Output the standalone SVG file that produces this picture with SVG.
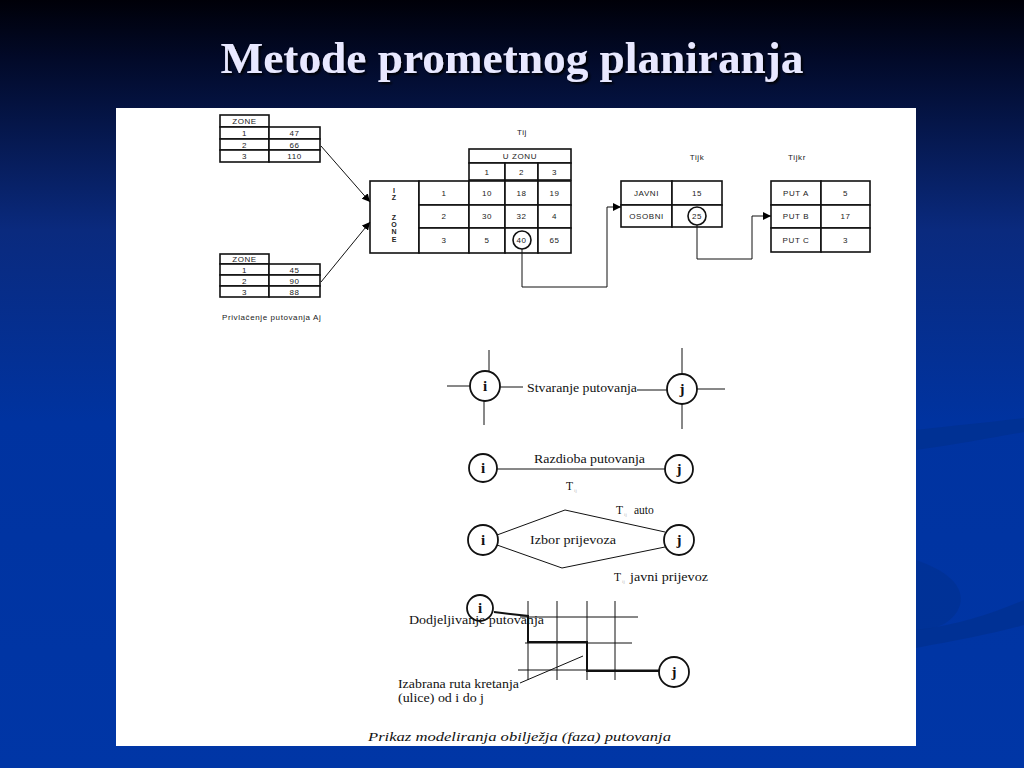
<svg xmlns="http://www.w3.org/2000/svg" width="1024" height="768" viewBox="0 0 1024 768">
<defs>
<linearGradient id="bg" x1="0" y1="0" x2="0" y2="1">
<stop offset="0" stop-color="#000008"/>
<stop offset="0.08" stop-color="#020a2a"/>
<stop offset="0.3" stop-color="#0a2a7e"/>
<stop offset="0.55" stop-color="#0033a0"/>
<stop offset="1" stop-color="#0036a6"/>
</linearGradient>
<marker id="ah" viewBox="0 0 10 10" refX="10" refY="5" markerWidth="8" markerHeight="8" markerUnits="userSpaceOnUse" orient="auto">
<path d="M0,0 L10,5 L0,10 z" fill="#000"/>
</marker>
<filter id="sh" x="-5%" y="-20%" width="110%" height="140%">
<feDropShadow dx="2" dy="2" stdDeviation="1" flood-color="#000" flood-opacity="0.9"/>
</filter>
</defs>
<style>
.cell{fill:#fff;stroke:#111;stroke-width:1.6}
.t{font-family:"Liberation Sans",Arial,sans-serif;font-size:8px;text-anchor:middle;fill:#222;letter-spacing:0.6px}
.tl{font-family:"Liberation Sans",Arial,sans-serif;font-size:8px;fill:#222;letter-spacing:0.6px}
.s{font-family:"Liberation Serif","Times New Roman",serif;font-size:11.5px;fill:#111}
.node{fill:#fff;stroke:#111;stroke-width:1.8}
.nl{font-family:"Liberation Serif","Times New Roman",serif;font-size:15px;font-weight:bold;fill:#111;text-anchor:middle}
.ln{stroke:#111;stroke-width:1;fill:none}
.sub{font-family:"Liberation Serif",serif;font-size:5px;fill:#bbb}
</style>
<rect width="1024" height="768" fill="url(#bg)"/>
<path d="M916,430 C960,425 990,422 1024,418 L1024,432 C990,438 960,444 916,450 Z" fill="#00308f" opacity="0.7"/>
<path d="M916,560 C945,570 965,585 960,605 C955,620 940,630 916,630 Z" fill="#00308f" opacity="0.6"/>
<path d="M916,630 C960,625 995,612 1024,600 L1024,625 C995,633 960,640 916,648 Z" fill="#00308f" opacity="0.7"/>
<text x="512" y="73" text-anchor="middle" font-family="Liberation Serif,'Times New Roman',serif" font-weight="bold" font-size="44" fill="#e8e8ff" filter="url(#sh)" textLength="583" lengthAdjust="spacingAndGlyphs">Metode prometnog planiranja</text>
<rect x="116" y="108" width="800" height="638" fill="#fff"/>

<g id="zone-table-1">
<rect class="cell" x="220" y="115" width="49" height="12"/>
<rect class="cell" x="220" y="127" width="49" height="12"/><rect class="cell" x="269" y="127" width="51" height="12"/>
<rect class="cell" x="220" y="139" width="49" height="11"/><rect class="cell" x="269" y="139" width="51" height="11"/>
<rect class="cell" x="220" y="150" width="49" height="12"/><rect class="cell" x="269" y="150" width="51" height="12"/>
<text class="t" x="244.5" y="124">ZONE</text>
<text class="t" x="244.5" y="136">1</text><text class="t" x="294.5" y="136">47</text>
<text class="t" x="244.5" y="147.5">2</text><text class="t" x="294.5" y="147.5">66</text>
<text class="t" x="244.5" y="159">3</text><text class="t" x="294.5" y="159">110</text>
</g>

<g id="zone-table-2">
<rect class="cell" x="220" y="254" width="49" height="10"/>
<rect class="cell" x="220" y="264" width="49" height="11"/><rect class="cell" x="269" y="264" width="51" height="11"/>
<rect class="cell" x="220" y="275" width="49" height="11"/><rect class="cell" x="269" y="275" width="51" height="11"/>
<rect class="cell" x="220" y="286" width="49" height="11"/><rect class="cell" x="269" y="286" width="51" height="11"/>
<text class="t" x="244.5" y="262">ZONE</text>
<text class="t" x="244.5" y="272.5">1</text><text class="t" x="294.5" y="272.5">45</text>
<text class="t" x="244.5" y="283.5">2</text><text class="t" x="294.5" y="283.5">90</text>
<text class="t" x="244.5" y="294.5">3</text><text class="t" x="294.5" y="294.5">88</text>
<text class="tl" x="222" y="320">Privlačenje putovanja Aj</text>
</g>

<g id="matrix-tij">
<text class="t" x="522" y="135">Tij</text>
<rect class="cell" x="469" y="149" width="102" height="14"/>
<rect class="cell" x="469" y="163" width="36" height="17"/><rect class="cell" x="505" y="163" width="33" height="17"/><rect class="cell" x="538" y="163" width="33" height="17"/>
<rect class="cell" x="370" y="181" width="49" height="72"/>
<rect class="cell" x="419" y="181" width="50" height="24"/><rect class="cell" x="469" y="181" width="36" height="24"/><rect class="cell" x="505" y="181" width="33" height="24"/><rect class="cell" x="538" y="181" width="33" height="24"/>
<rect class="cell" x="419" y="205" width="50" height="23"/><rect class="cell" x="469" y="205" width="36" height="23"/><rect class="cell" x="505" y="205" width="33" height="23"/><rect class="cell" x="538" y="205" width="33" height="23"/>
<rect class="cell" x="419" y="228" width="50" height="25"/><rect class="cell" x="469" y="228" width="36" height="25"/><rect class="cell" x="505" y="228" width="33" height="25"/><rect class="cell" x="538" y="228" width="33" height="25"/>
<text class="t" x="520" y="159">U ZONU</text>
<text class="t" x="487" y="175">1</text><text class="t" x="521.5" y="175">2</text><text class="t" x="554.5" y="175">3</text>
<g style="font-family:'Liberation Sans',sans-serif;font-size:7px;font-weight:bold;text-anchor:middle;fill:#222">
<text x="394" y="193">I</text><text x="394" y="200">Z</text>
<text x="394" y="220">Z</text><text x="394" y="227">O</text><text x="394" y="234">N</text><text x="394" y="242">E</text>
</g>
<text class="t" x="444" y="196">1</text><text class="t" x="487" y="196">10</text><text class="t" x="521.5" y="196">18</text><text class="t" x="554.5" y="196">19</text>
<text class="t" x="444" y="219">2</text><text class="t" x="487" y="219">30</text><text class="t" x="521.5" y="219">32</text><text class="t" x="554.5" y="219">4</text>
<text class="t" x="444" y="243">3</text><text class="t" x="487" y="243">5</text><text class="t" x="521.5" y="243">40</text><text class="t" x="554.5" y="243">65</text>
<circle cx="522" cy="240" r="9" fill="none" stroke="#111" stroke-width="1.6"/>
</g>

<g id="table-tijk">
<text class="t" x="697" y="160">Tijk</text>
<rect class="cell" x="621" y="181" width="51" height="24"/><rect class="cell" x="672" y="181" width="50" height="24"/>
<rect class="cell" x="621" y="205" width="51" height="22"/><rect class="cell" x="672" y="205" width="50" height="22"/>
<text class="t" x="646.5" y="196">JAVNI</text><text class="t" x="697" y="196">15</text>
<text class="t" x="646.5" y="219">OSOBNI</text><text class="t" x="697" y="219">25</text>
<circle cx="697" cy="216" r="9" fill="none" stroke="#111" stroke-width="1.6"/>
</g>

<g id="table-tijkr">
<text class="t" x="797" y="160">Tijkr</text>
<rect class="cell" x="771" y="181" width="50" height="24"/><rect class="cell" x="821" y="181" width="49" height="24"/>
<rect class="cell" x="771" y="205" width="50" height="23"/><rect class="cell" x="821" y="205" width="49" height="23"/>
<rect class="cell" x="771" y="228" width="50" height="24"/><rect class="cell" x="821" y="228" width="49" height="24"/>
<text class="t" x="796" y="196">PUT A</text><text class="t" x="845.5" y="196">5</text>
<text class="t" x="796" y="219">PUT B</text><text class="t" x="845.5" y="219">17</text>
<text class="t" x="796" y="243">PUT C</text><text class="t" x="845.5" y="243">3</text>
</g>

<g id="connectors">
<line class="ln" x1="321" y1="146" x2="370" y2="202" marker-end="url(#ah)"/>
<line class="ln" x1="321" y1="282" x2="370" y2="222" marker-end="url(#ah)"/>
<path class="ln" d="M522,249 V287 H607 V207 H621" marker-end="url(#ah)"/>
<path class="ln" d="M697,225 V259 H752 V216 H771" marker-end="url(#ah)"/>
</g>

<g id="stage-generation">
<line class="ln" x1="489" y1="350" x2="489" y2="372"/>
<line class="ln" x1="484" y1="400" x2="484" y2="425"/>
<line class="ln" x1="447" y1="386" x2="470" y2="386"/>
<line class="ln" x1="500" y1="387" x2="523" y2="387"/>
<line class="ln" x1="637" y1="390" x2="667" y2="390"/>
<line class="ln" x1="682" y1="348" x2="682" y2="374"/>
<line class="ln" x1="682" y1="404" x2="682" y2="429"/>
<line class="ln" x1="697" y1="389" x2="725" y2="389"/>
<circle class="node" cx="485" cy="386" r="15"/><text class="nl" x="485" y="391">i</text>
<circle class="node" cx="682" cy="389" r="15"/><text class="nl" x="682" y="394">j</text>
<text class="s" x="527" y="392" textLength="110" lengthAdjust="spacingAndGlyphs">Stvaranje putovanja</text>
</g>

<g id="stage-distribution">
<line class="ln" x1="497" y1="469" x2="665" y2="469"/>
<circle class="node" cx="483" cy="468" r="14"/><text class="nl" x="483" y="473">i</text>
<circle class="node" cx="679" cy="469" r="14"/><text class="nl" x="679" y="474">j</text>
<text class="s" x="534" y="463" textLength="111" lengthAdjust="spacingAndGlyphs">Razdioba putovanja</text>
<text class="s" x="566" y="490">T</text><text class="sub" x="574" y="492">ij</text>
</g>

<g id="stage-mode">
<path class="ln" d="M497,535 L565,510 L665,532"/>
<path class="ln" d="M497,545 L562,568 L665,547"/>
<circle class="node" cx="483" cy="540" r="15"/><text class="nl" x="483" y="545">i</text>
<circle class="node" cx="679" cy="540" r="15"/><text class="nl" x="679" y="545">j</text>
<text class="s" x="530" y="544" textLength="86" lengthAdjust="spacingAndGlyphs">Izbor prijevoza</text>
<text class="s" x="616" y="514">T</text><text class="sub" x="624" y="516">ij</text><text class="s" x="634" y="514">auto</text>
<text class="s" x="614" y="581">T</text><text class="sub" x="622" y="583">ij</text><text class="s" x="630" y="581" textLength="78" lengthAdjust="spacingAndGlyphs">javni prijevoz</text>
</g>

<g id="stage-assignment">
<line class="ln" x1="528" y1="601" x2="528" y2="680"/>
<line class="ln" x1="557" y1="601" x2="557" y2="680"/>
<line class="ln" x1="587" y1="601" x2="587" y2="680" stroke="#888"/>
<line class="ln" x1="615" y1="601" x2="615" y2="680"/>
<line class="ln" x1="520" y1="617" x2="638" y2="617"/>
<line class="ln" x1="525" y1="643" x2="632" y2="643"/>
<line class="ln" x1="518" y1="670" x2="660" y2="670" stroke="#666"/>
<path d="M494,612 L528,616 V642 H587 V671 H659" fill="none" stroke="#111" stroke-width="2"/>
<line class="ln" x1="520" y1="683" x2="583" y2="656"/>
<circle class="node" cx="480" cy="608" r="13"/><text class="nl" x="480" y="613">i</text>
<circle class="node" cx="674" cy="672" r="15"/><text class="nl" x="674" y="677">j</text>
<text class="s" x="409" y="624" textLength="135" lengthAdjust="spacingAndGlyphs">Dodjeljivanje putovanja</text>
<text class="s" x="398" y="688" textLength="121" lengthAdjust="spacingAndGlyphs">Izabrana ruta kretanja</text>
<text class="s" x="398" y="702" textLength="86" lengthAdjust="spacingAndGlyphs">(ulice) od i do j</text>
</g>

<text x="368" y="741" font-family="Liberation Serif,'Times New Roman',serif" font-style="italic" font-size="13" fill="#111" textLength="303" lengthAdjust="spacingAndGlyphs">Prikaz modeliranja obilježja (faza) putovanja</text>
</svg>
